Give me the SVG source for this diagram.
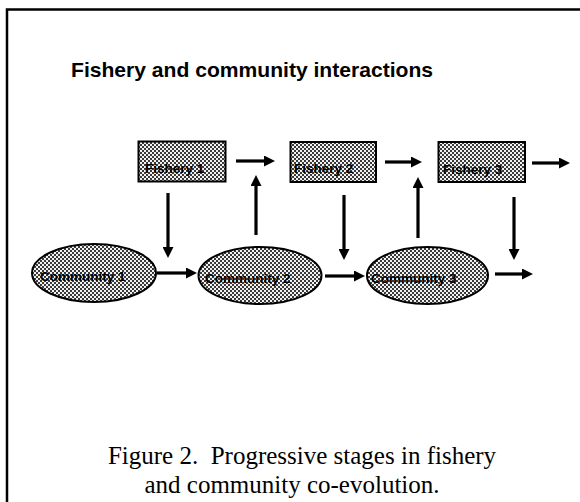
<svg xmlns="http://www.w3.org/2000/svg" width="580" height="502" viewBox="0 0 580 502">
<style>
.frame{stroke:#000;stroke-width:2.5;fill:none}
.node{fill:url(#ht);stroke:#000;stroke-width:2}
.lbl{font-family:"Liberation Sans",Arial,sans-serif;font-weight:bold;font-size:13.5px;fill:#000}
.title{font-family:"Liberation Sans",Arial,sans-serif;font-weight:bold;font-size:20.5px;fill:#000}
.cap{font-family:"Liberation Serif","Times New Roman",serif;font-size:25px;fill:#000}
.arr{stroke:#000;stroke-width:3.2;fill:none;marker-end:url(#ah)}
</style>
<defs>
<pattern id="ht" width="4" height="4" patternUnits="userSpaceOnUse">
<rect width="4" height="4" fill="#f2f2f2"/>
<rect x="0" y="0" width="2" height="2" fill="#3a3a3a"/>
<rect x="2" y="2" width="2" height="2" fill="#3a3a3a"/>
</pattern>
<marker id="ah" markerUnits="userSpaceOnUse" markerWidth="11" markerHeight="11" viewBox="0 0 11 11" refX="3" refY="5.5" orient="auto">
<path d="M0,0 L11,5.5 L0,11 Z" fill="#000"/>
</marker>
</defs>
<rect width="580" height="502" fill="#fff"/>
<path class="frame" d="M7,502 L7,9.5 L580,9.5"/>
<text class="title" x="71" y="77" textLength="362" lengthAdjust="spacingAndGlyphs">Fishery and community interactions</text>
<g id="connectors">
<line class="arr" x1="236" y1="161" x2="267" y2="161"/>
<line class="arr" x1="385" y1="162" x2="414" y2="162"/>
<line class="arr" x1="532" y1="163" x2="562" y2="163"/>
<line class="arr" x1="168" y1="193" x2="168" y2="250"/>
<line class="arr" x1="344" y1="195" x2="344" y2="252"/>
<line class="arr" x1="514" y1="197" x2="514" y2="252"/>
<line class="arr" x1="256" y1="235" x2="256" y2="183"/>
<line class="arr" x1="418" y1="238" x2="418" y2="185"/>
<line class="arr" x1="157" y1="273" x2="189" y2="273"/>
<line class="arr" x1="325" y1="276" x2="357" y2="276"/>
<line class="arr" x1="495" y1="274" x2="525" y2="274"/>
</g>
<g id="fishery1">
<rect class="node" x="138.5" y="141.5" width="87" height="40"/>
<text class="lbl" x="145" y="173">Fishery 1</text>
</g>
<g id="fishery2">
<rect class="node" x="290.5" y="142" width="85.5" height="40"/>
<text class="lbl" x="294" y="173">Fishery 2</text>
</g>
<g id="fishery3">
<rect class="node" x="438.5" y="142" width="86.5" height="40"/>
<text class="lbl" x="443" y="174">Fishery 3</text>
</g>
<g id="community1">
<ellipse class="node" cx="94" cy="273" rx="62" ry="29"/>
<text class="lbl" x="40" y="281">Community 1</text>
</g>
<g id="community2">
<ellipse class="node" cx="260" cy="275.5" rx="61.5" ry="28.5"/>
<text class="lbl" x="205" y="283">Community 2</text>
</g>
<g id="community3">
<ellipse class="node" cx="427.5" cy="275.5" rx="60.5" ry="28.5"/>
<text class="lbl" x="371" y="283">Community 3</text>
</g>
<text class="cap" x="302" y="464" text-anchor="middle">Figure 2.&#160; Progressive stages in fishery</text>
<text class="cap" x="292" y="493" text-anchor="middle">and community co-evolution.</text>
</svg>
